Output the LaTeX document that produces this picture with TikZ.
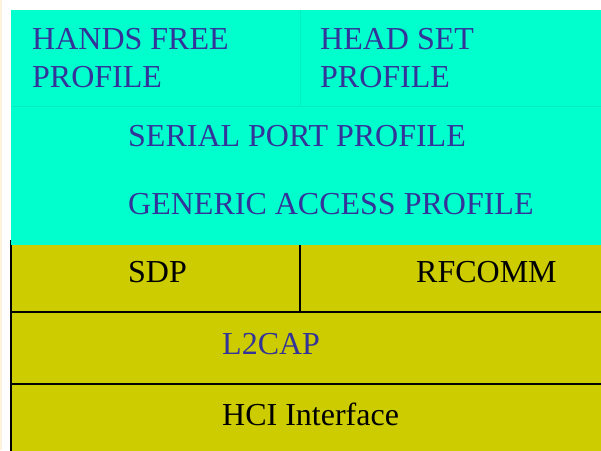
\documentclass[tikz,border=0pt]{standalone}
\usepackage{fontspec}
\setmainfont{Liberation Serif}
\definecolor{aqua}{RGB}{0,255,204}
\definecolor{olivebox}{RGB}{204,204,0}
\definecolor{ink}{RGB}{51,51,153}
\definecolor{cream}{RGB}{255,242,220}
\definecolor{seam}{RGB}{0,238,192}
\tikzset{lbl/.style={font=\fontsize{32}{38}\selectfont, inner sep=0pt, anchor=base west}}
\begin{document}
\begin{tikzpicture}[x=1pt,y=-1pt,line join=round]
	\useasboundingbox (0,0) rectangle (601,450);
	\fill[cream] (0,0) rectangle (2,450);
	%lower layers
	\fill[olivebox] (11,240) rectangle (605,455);
	\draw[line width=2pt] (11,240)coordinate(B)--(11,455);
	%profiles
	\fill[aqua] (11,10)coordinate(A) rectangle (605,245);
	\draw[seam,line width=0.6pt] (300,10)--(300,106) (11,106)--(605,106);
	\draw[line width=1.5pt] (300,245)--(300,312) (11,312)--(605,312) (11,384)--(605,384);
	\foreach \t/\x/\y/\c [count=\i] in {HANDS FREE/32/49/ink,PROFILE/32/87/ink,HEAD SET/320/49/ink,PROFILE/320/87/ink,
		SERIAL PORT PROFILE/128/146/ink,GENERIC ACCESS PROFILE/128/214/ink,
		SDP/128/282/black,RFCOMM/416/282/black,L2CAP/222/354/ink,HCI Interface/222/425/black}
	\node[lbl,text=\c] (t\i) at (\x,\y) {\t};
\end{tikzpicture}
\end{document}
